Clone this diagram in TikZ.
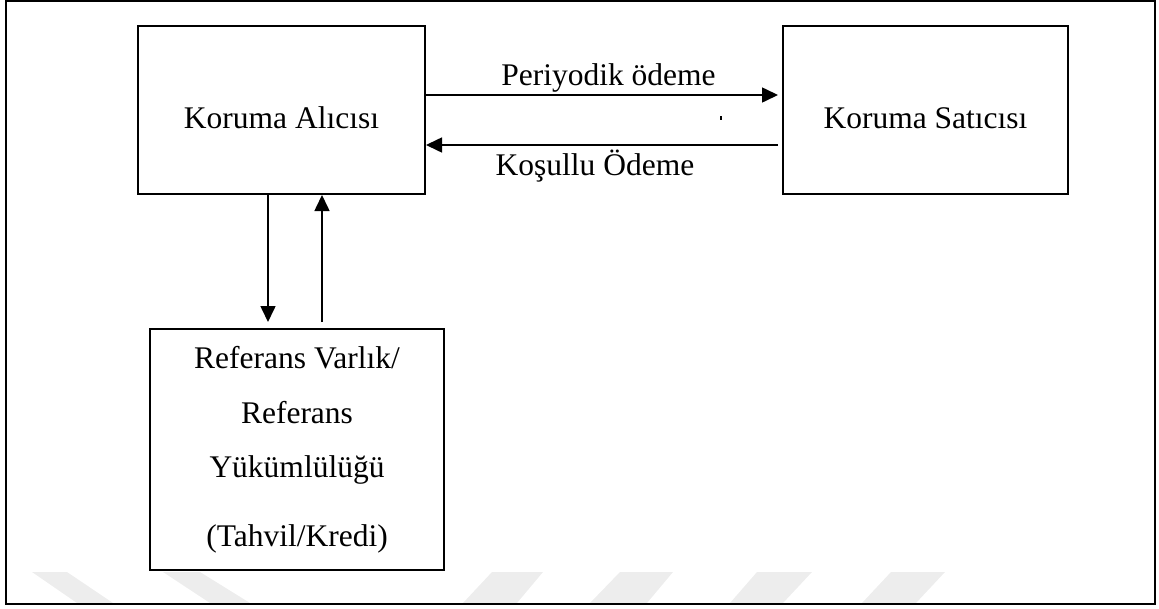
\documentclass[tikz,border=0pt]{standalone}
\usepackage{fontspec}
\setmainfont{Liberation Serif}
\usetikzlibrary{arrows.meta}
\tikzset{
  box/.style={draw=black, line width=2pt, inner sep=0pt},
  arr/.style={line width=1.6pt, -{Triangle[length=16pt,width=15pt]}},
  lbl/.style={font=\fontsize{31.5}{38}\selectfont, inner sep=0pt, anchor=base},
  wm/.style={fill=black!7, draw=none},
  frame/.style={draw=black, line width=2pt}
}
\begin{document}
\begin{tikzpicture}[x=1pt,y=-1pt]
\useasboundingbox (0,0) rectangle (1159,608);
% watermark
\fill[wm] (32,572) -- (67,572) -- (113,603) -- (77,603) -- cycle;
\fill[wm] (163,572) -- (200,572) -- (250,603) -- (210,603) -- cycle;
\fill[wm] (492,572) -- (543,572) -- (517,603) -- (463,603) -- cycle;
\fill[wm] (620,572) -- (673,572) -- (647,603) -- (590,603) -- cycle;
\fill[wm] (757,572) -- (812,572) -- (783,603) -- (730,603) -- cycle;
\fill[wm] (891,572) -- (945,572) -- (916,603) -- (862,603) -- cycle;
% outer frame
\draw[frame] (6,1) rectangle (1155,604);
% boxes
\node[box, minimum width=287pt, minimum height=168pt] (A) at (281.5,110) {};
\node[box, minimum width=285pt, minimum height=168pt] (S) at (925.5,110) {};
\node[box, minimum width=294pt, minimum height=241pt] (R) at (297,449.5) {};
% box texts
\node[lbl] (at) at (281.5,128) {Koruma Alıcısı};
\node[lbl] (st) at (925.5,128) {Koruma Satıcısı};
\node[lbl] (r1) at (297,368) {Referans Varlık/};
\node[lbl] (r2) at (297,423) {Referans};
\node[lbl] (r3) at (297,477) {Yükümlülüğü};
\node[lbl] (r4) at (297,546) {(Tahvil/Kredi)};
% horizontal arrows
\draw[arr] ([yshift=15pt]A.east) -- ([yshift=15pt,xshift=-4pt]S.west);
\draw[arr] ([yshift=-35pt,xshift=-4pt]S.west) -- ([yshift=-35pt]A.east);
\node[lbl] (pl) at (608.5,85) {Periyodik ödeme};
\node[lbl] (kl) at (595,175) {Koşullu Ödeme};
% stray mark
\fill (720,116) rectangle (721.6,120);
% vertical arrows
\draw[arr] ([xshift=-13.5pt]A.south) -- ([xshift=-29pt,yshift=6pt]R.north);
\draw[arr] ([xshift=25pt,yshift=6pt]R.north) -- ([xshift=40.5pt]A.south);
\end{tikzpicture}
\end{document}
